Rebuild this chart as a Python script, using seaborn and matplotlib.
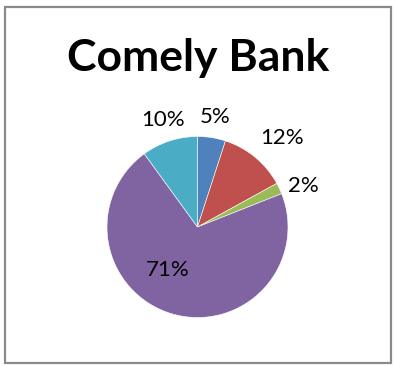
import matplotlib
matplotlib.use("Agg")
import matplotlib.pyplot as plt
import seaborn as sns
import numpy as np
from matplotlib.patches import Rectangle

sns.set_theme(style="white")
plt.rcParams['font.family'] = ['Lato', 'DejaVu Sans']

title = "Comely Bank"
categories = ["A", "B", "C", "D", "E"]
values = [5, 12, 2, 71, 10]
pct_labels = ["5%", "12%", "2%", "71%", "10%"]
colors = ["#4F81BD", "#C0504D", "#9BBB59", "#8064A2", "#4BACC6"]

W, H = 394, 366
fig = plt.figure(figsize=(W / 100, H / 100), dpi=100)
fig.patch.set_facecolor("white")

# border
fig.add_artist(Rectangle((4.5 / W, 1 - 362.5 / H), 386.5 / W, 355.5 / H,
                         transform=fig.transFigure, fill=False,
                         edgecolor="#8a8a8a", linewidth=1.6))

cx, cy, r = 197.5, 227, 90.5
ax = fig.add_axes([(cx - r) / W, (H - cy - r) / H, 2 * r / W, 2 * r / H])
wedges, _ = ax.pie(values, startangle=90, counterclock=False, colors=colors,
                   radius=1, wedgeprops=dict(edgecolor="white", linewidth=0.4))
ax.set_xlim(-1, 1)
ax.set_ylim(-1, 1)
ax.set_aspect("equal")
ax.axis("off")

# label placement (distance from centre, angle shift in degrees)
dists = [1.23, 1.36, 1.25, 0.58, 1.24]
shifts = [0, -4, -4, -19, 0]
for w, lab, d, s in zip(wedges, pct_labels, dists, shifts):
    ang = np.deg2rad((w.theta1 + w.theta2) / 2 + s)
    ax.text(d * np.cos(ang), d * np.sin(ang), lab, ha="center", va="center",
            fontsize=16, color="black", clip_on=False)

fig.text(198 / W, 1 - 58 / H, title, ha="center", va="center",
         fontsize=32, fontweight="bold", color="black")

fig.savefig("out.png", dpi=100)
